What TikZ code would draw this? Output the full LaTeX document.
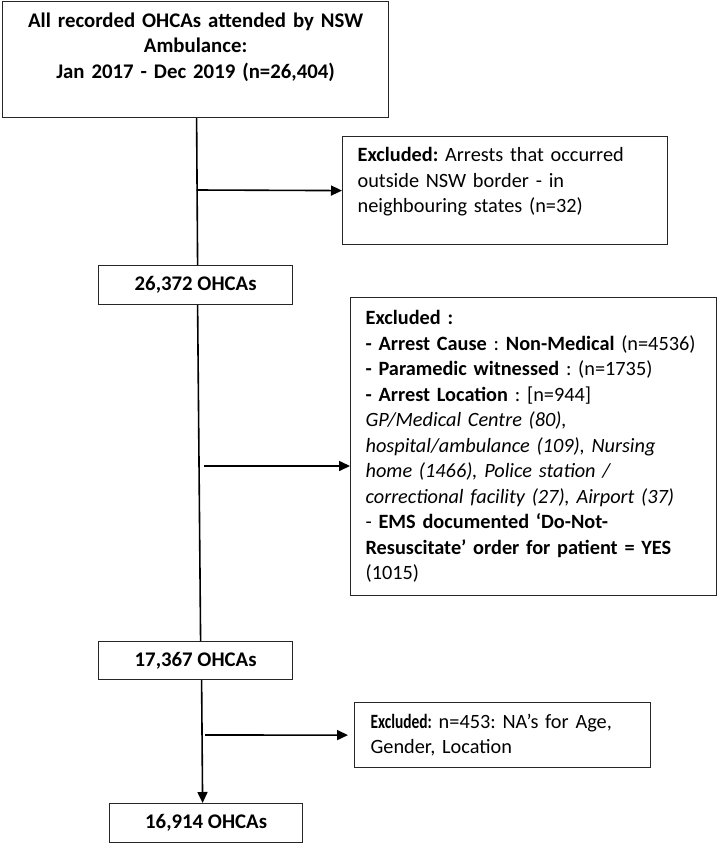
\documentclass[tikz,border=0pt]{standalone}
\usepackage{fontspec}
\usepackage{graphicx}
\setmainfont{Carlito}
\usetikzlibrary{arrows.meta}
\frenchspacing
\begin{document}
\begin{tikzpicture}[x=1pt,y=-1pt,
  box/.style={draw=black!85, line width=1.2pt, inner xsep=15pt, inner ysep=0pt,
    font=\fontsize{20.8}{25.5}\selectfont\frenchspacing, anchor=north west},
  exbox/.style={box, font=\fontsize{20.3}{25.5}\selectfont\frenchspacing, align=left},
  flow/.style={line width=1.6pt},
  arr/.style={flow, -{Triangle[length=11pt,width=10pt]}}]
\useasboundingbox (0,0) rectangle (722,843);
% boxes
\node[box, minimum width=386pt, minimum height=116pt, text width=356pt, align=center] (all) at (2,1)
  {\bfseries All recorded OHCAs attended by NSW\\ Ambulance:\\ Jan 2017 - Dec 2019 (n=26,404)\rule[-28pt]{0pt}{0pt}};
\node[box, minimum width=194pt, minimum height=39pt, align=center] (n1) at (98,265) {\bfseries 26,372 OHCAs};
\node[exbox, minimum height=108pt, text width=295pt] (ex1) at (342,136)
  {\mbox{\textbf{Excluded:} Arrests that occurred}\\ outside NSW border - in\\ neighbouring states (n=32)\rule[-21pt]{0pt}{0pt}};
\node[exbox, minimum height=298pt, text width=336pt] (ex2) at (350,297)
  {\textbf{Excluded :}\\
   \mbox{\textbf{- Arrest Cause} : \textbf{Non-Medical} (n=4536)}\\
   \textbf{- Paramedic witnessed} : (n=1735)\\
   \textbf{- Arrest Location} : [n=944]\\
   \textit{GP/Medical Centre (80),}\\
   \mbox{\textit{hospital/ambulance (109), Nursing}}\\
   \mbox{\textit{home (1466), Police station /}}\\
   \mbox{\textit{correctional facility (27), Airport (37)}}\\
   \mbox{- \textbf{EMS documented ‘Do-Not-}}\\
   \mbox{\textbf{Resuscitate’ order for patient = YES}}\\
   (1015)};
\node[box, minimum width=194pt, minimum height=38pt, align=center] (n2) at (98,641) {\bfseries 17,367 OHCAs};
\node[exbox, minimum height=65pt, text width=264pt, inner xsep=16pt] (ex3) at (354,702)
  {\mbox{\scalebox{0.76}[1]{\textbf{Excluded:}} n=453: NA’s for Age,}\\ Gender, Location};
\node[box, minimum width=193pt, minimum height=39pt, align=center] (n3) at (109,803) {\bfseries 16,914 OHCAs};
% connectors
\coordinate (j1) at (196.5,190);
\coordinate (j2) at (204,466);
\coordinate (j3) at (205,735);
\draw[flow] ([xshift=1pt]all.south) -- ([xshift=2pt]n1.north);
\draw[arr] (j1) -- (ex1.west);
\draw[flow] ([xshift=2pt]n1.south) -- ([xshift=5pt]n2.north);
\draw[arr] (j2) -- (j2 -| ex2.west);
\draw[arr] ([xshift=6pt]n2.south) -- ([xshift=-3.5pt]n3.north);
\draw[arr] (j3) -- ([xshift=-6pt]ex3.west);
\end{tikzpicture}
\end{document}
